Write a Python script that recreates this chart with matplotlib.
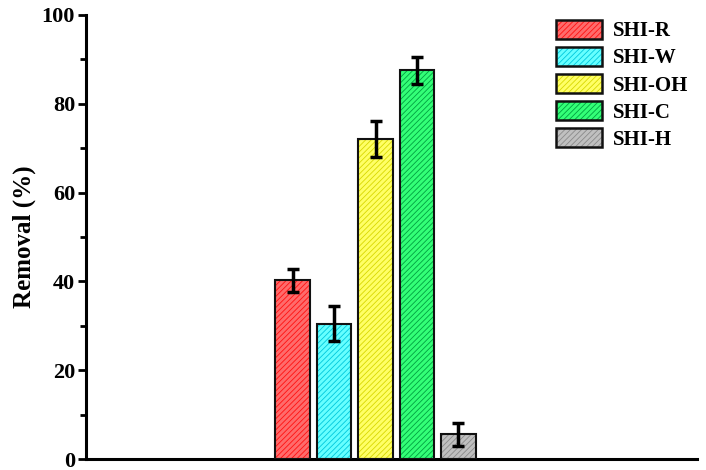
import matplotlib
matplotlib.use("Agg")
import matplotlib.pyplot as plt
from matplotlib.ticker import MultipleLocator
from matplotlib.patches import Patch

plt.rcParams['font.family'] = ['Liberation Serif', 'DejaVu Serif']
plt.rcParams['font.weight'] = 'bold'
plt.rcParams['hatch.linewidth'] = 0.6

categories = ["SHI-R", "SHI-W", "SHI-OH", "SHI-C", "SHI-H"]
removal = [40.2, 30.5, 72.1, 87.5, 5.6]
errors = [2.5, 4.0, 4.1, 3.1, 2.6]
face_colors = ["#FF6B6B", "#66FFFF", "#FFFF66", "#33FF77", "#C0C0C0"]
hatch_colors = ["#FF1010", "#00C8DC", "#D8D800", "#00A040", "#8A8A8A"]

fig = plt.figure(figsize=(7.06, 4.70), dpi=100)
ax = fig.add_axes([0.122, 0.0234, 0.865, 0.945])

positions = [1, 2, 3, 4, 5]
for x, v, e, fc, hc, lab in zip(positions, removal, errors, face_colors, hatch_colors, categories):
    ax.bar(x, v, width=0.84, color=fc, edgecolor=hc, hatch='//////', linewidth=0, zorder=2)
    ax.bar(x, v, width=0.84, facecolor='none', edgecolor='#111111', linewidth=1.5, zorder=3)
    ax.errorbar(x, v, yerr=e, fmt='none', ecolor='black', elinewidth=2.5, capsize=4.3, capthick=2.5, zorder=4)

handles = [Patch(facecolor=fc, edgecolor=hc, hatch='//////', linewidth=0, label=lab)
           for fc, hc, lab in zip(face_colors, hatch_colors, categories)]
leg = ax.legend(handles=handles, loc='upper right', bbox_to_anchor=(1.003, 1.012), frameon=False,
                handlelength=2.25, handleheight=1.0, labelspacing=0.27,
                handletextpad=0.5, borderaxespad=0.1, prop={'weight': 'bold', 'size': 15})
fig.canvas.draw()
for h in leg.legend_handles:
    bb = h.get_window_extent(fig.canvas.get_renderer())
    inv = fig.transFigure.inverted()
    (x0, y0), (x1, y1) = inv.transform([(bb.x0, bb.y0), (bb.x1, bb.y1)])
    fig.patches.append(plt.Rectangle((x0, y0), x1 - x0, y1 - y0, transform=fig.transFigure,
                                     fill=False, edgecolor='#111111', linewidth=1.8, zorder=10))

ax.set_xlim(-3.98, 10.75)
ax.set_ylim(0, 100)
ax.yaxis.set_major_locator(MultipleLocator(20))
ax.yaxis.set_minor_locator(MultipleLocator(10))
ax.set_xticks([])
ax.spines['top'].set_visible(False)
ax.spines['right'].set_visible(False)
ax.spines['left'].set_linewidth(2.2)
ax.spines['bottom'].set_linewidth(2.2)
ax.tick_params(axis='y', which='major', direction='out', length=6, width=2, labelsize=16, pad=2)
ax.tick_params(axis='y', which='minor', direction='out', length=4, width=2)
for t in ax.get_yticklabels():
    t.set_fontweight('bold')
ax.set_ylabel("Removal (%)", fontsize=18, fontweight='bold', labelpad=4)

fig.savefig("out.png", dpi=100)
